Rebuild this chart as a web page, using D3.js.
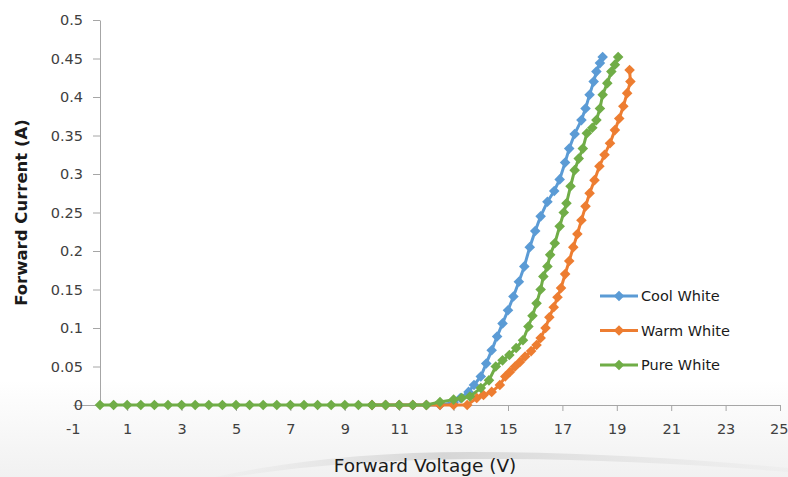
<!DOCTYPE html>
<html>
<head>
<meta charset="utf-8">
<script src="https://cdn.jsdelivr.net/npm/d3@7"></script>
<style>
  html, body { margin: 0; padding: 0; background: #fff; }
  svg { display: block; }
  text { font-family: "DejaVu Sans", "Noto Sans", sans-serif; }
</style>
</head>
<body>
<svg id="chart" width="788" height="477"></svg>
<script>
// ---------- data ----------
const seriesNames = ["Cool White", "Warm White", "Pure White"];
const seriesColors = ["#5B9BD5", "#ED7D31", "#70AD47"];

const coolV = [10, 10.5, 11, 11.5, 12, 12.5, 13.0, 13.25, 13.55, 13.75, 14.0, 14.2, 14.4, 14.6, 14.8, 15.0, 15.2, 15.4, 15.6, 15.8, 16.0, 16.2, 16.45, 16.7, 16.9, 17.1, 17.25, 17.45, 17.7, 17.85, 18.0, 18.15, 18.25, 18.38, 18.48];
const coolI = [0, 0, 0, 0, 0, 0, 0.003, 0.009, 0.017, 0.026, 0.037, 0.054, 0.071, 0.089, 0.106, 0.123, 0.141, 0.16, 0.18, 0.205, 0.226, 0.245, 0.264, 0.278, 0.293, 0.315, 0.333, 0.352, 0.37, 0.385, 0.403, 0.42, 0.433, 0.444, 0.452];

const warmV = [10, 10.5, 11, 11.5, 12, 12.5, 13, 13.5, 13.85, 14.1, 14.4, 14.7, 14.9, 15.07, 15.26, 15.44, 15.63, 15.85, 16.05, 16.2, 16.38, 16.52, 16.68, 16.82, 16.95, 17.1, 17.25, 17.4, 17.55, 17.7, 17.85, 18.0, 18.18, 18.36, 18.55, 18.75, 18.93, 19.09, 19.24, 19.38, 19.5, 19.47];
const warmI = [0, 0, 0, 0, 0, 0, 0, 0, 0.009, 0.013, 0.017, 0.026, 0.037, 0.043, 0.05, 0.056, 0.063, 0.07, 0.078, 0.087, 0.1, 0.114, 0.127, 0.14, 0.152, 0.17, 0.187, 0.205, 0.222, 0.24, 0.258, 0.275, 0.292, 0.31, 0.325, 0.34, 0.357, 0.372, 0.388, 0.405, 0.42, 0.435];

const pureV = [0, 0.5, 1, 1.5, 2, 2.5, 3, 3.5, 4, 4.5, 5, 5.5, 6, 6.5, 7, 7.5, 8, 8.5, 9, 9.5, 10, 10.5, 11, 11.5, 12, 12.5, 13.0, 13.3, 13.6, 14.0, 14.3, 14.55, 14.8, 15.05, 15.3, 15.55, 15.75, 15.9, 16.05, 16.2, 16.3, 16.45, 16.55, 16.72, 16.9, 17.05, 17.15, 17.3, 17.45, 17.6, 17.75, 17.9, 18.1, 18.25, 18.38, 18.48, 18.65, 18.8, 18.93, 19.05];
const pureI = [0, 0, 0, 0, 0, 0, 0, 0, 0, 0, 0, 0, 0, 0, 0, 0, 0, 0, 0, 0, 0, 0, 0, 0, 0, 0.004, 0.007, 0.009, 0.011, 0.022, 0.032, 0.05, 0.058, 0.065, 0.074, 0.084, 0.102, 0.116, 0.132, 0.15, 0.167, 0.18, 0.195, 0.21, 0.232, 0.25, 0.262, 0.284, 0.305, 0.32, 0.333, 0.353, 0.36, 0.37, 0.385, 0.403, 0.418, 0.433, 0.442, 0.452];

const xTicks = [-1, 1, 3, 5, 7, 9, 11, 13, 15, 17, 19, 21, 23, 25];
const yTicks = [0, 0.05, 0.1, 0.15, 0.2, 0.25, 0.3, 0.35, 0.4, 0.45, 0.5];
const xTitle = "Forward Voltage (V)";
const yTitle = "Forward Current (A)";

// ---------- layout ----------
const svg = d3.select("#chart");
const W = 788, H = 477;

const x = d3.scaleLinear().domain([-1, 25]).range([72.8, 780]);
const y = d3.scaleLinear().domain([0, 0.5]).range([405, 20]);

// background decoration (light band + swoosh at bottom)
const defs = svg.append("defs");
const g1 = defs.append("linearGradient").attr("id", "band").attr("x1", 0).attr("y1", 0).attr("x2", 0).attr("y2", 1);
g1.append("stop").attr("offset", "0%").attr("stop-color", "#ffffff");
g1.append("stop").attr("offset", "100%").attr("stop-color", "#f1f1f1");
svg.append("rect").attr("x", 0).attr("y", 380).attr("width", W).attr("height", H - 380).attr("fill", "url(#band)");
const g2 = defs.append("linearGradient").attr("id", "swoosh").attr("x1", 0).attr("y1", 0).attr("x2", 1).attr("y2", 0);
g2.append("stop").attr("offset", "0%").attr("stop-color", "#e4e4e4").attr("stop-opacity", 0.2);
g2.append("stop").attr("offset", "40%").attr("stop-color", "#d6d6d6").attr("stop-opacity", 1);
g2.append("stop").attr("offset", "100%").attr("stop-color", "#e6e6e6").attr("stop-opacity", 0.3);
svg.append("path")
  .attr("d", "M215,477 Q330,452 470,452 Q620,452 788,468 L788,472 Q620,458 470,459 Q340,460 232,477 Z")
  .attr("fill", "url(#swoosh)");

// ---------- axes ----------
const axisColor = "#a6a6a6";
const textColor = "#404040";
const fmtX = d => String(d);                 // plain hyphen-minus like the reference
const fmtY = d => String(+d.toFixed(2));

const xAxis = svg.append("g").attr("transform", `translate(0,${y(0)})`)
  .call(d3.axisBottom(x).tickValues(xTicks).tickSize(6).tickSizeOuter(0).tickPadding(13).tickFormat(fmtX));
xAxis.select(".domain").attr("stroke", axisColor);
xAxis.selectAll(".tick line").attr("stroke", axisColor);
xAxis.selectAll(".tick text").attr("fill", textColor).style("font-size", "14.5px");
xAxis.selectAll(".tick").filter(d => d === -1).select("line").remove();
xAxis.selectAll(".tick").filter(d => d === 25).select("text").attr("text-anchor", "end").attr("dx", "8");

const yAxis = svg.append("g").attr("transform", `translate(${x(0)},0)`)
  .call(d3.axisLeft(y).tickValues(yTicks).tickSize(7).tickSizeOuter(0).tickPadding(10).tickFormat(fmtY));
yAxis.select(".domain").attr("stroke", axisColor);
yAxis.selectAll(".tick line").attr("stroke", axisColor);
yAxis.selectAll(".tick text").attr("fill", textColor).style("font-size", "14.5px");

// titles
svg.append("text")
  .attr("transform", `translate(27,${(y(0) + y(0.5)) / 2}) rotate(-90)`)
  .attr("text-anchor", "middle")
  .attr("fill", "#1a1a1a")
  .style("font-size", "16.5px").style("font-weight", "bold")
  .text(yTitle);
svg.append("text")
  .attr("x", 425).attr("y", 472)
  .attr("text-anchor", "middle")
  .attr("fill", "#1a1a1a")
  .style("font-size", "18.5px")
  .text(xTitle);

// ---------- series ----------
const series = [
  { name: seriesNames[0], color: seriesColors[0], pts: coolV.map((v, i) => [v, coolI[i]]) },
  { name: seriesNames[1], color: seriesColors[1], pts: warmV.map((v, i) => [v, warmI[i]]) },
  { name: seriesNames[2], color: seriesColors[2], pts: pureV.map((v, i) => [v, pureI[i]]) }
];

const line = d3.line().x(d => x(d[0])).y(d => y(d[1]));
const diamond = d3.symbol().type(d3.symbolSquare).size(56);

series.forEach(s => {
  const g = svg.append("g");
  g.append("path").datum(s.pts)
    .attr("d", line).attr("fill", "none")
    .attr("stroke", s.color).attr("stroke-width", 3).attr("stroke-linejoin", "round");
  g.selectAll("path.m").data(s.pts).join("path").attr("class", "m")
    .attr("d", diamond)
    .attr("transform", d => `translate(${x(d[0])},${y(d[1])}) rotate(45)`)
    .attr("fill", s.color);
});

// ---------- legend ----------
const legend = svg.append("g");
series.forEach((s, i) => {
  const ly = 296 + i * 34.5;
  legend.append("line").attr("x1", 600).attr("x2", 638).attr("y1", ly).attr("y2", ly)
    .attr("stroke", s.color).attr("stroke-width", 3);
  legend.append("path").attr("d", diamond).attr("transform", `translate(619,${ly}) rotate(45)`).attr("fill", s.color);
  legend.append("text").attr("x", 641).attr("y", ly).attr("dy", "0.35em")
    .attr("fill", "#1a1a1a").style("font-size", "14.5px").text(s.name);
});
</script>
</body>
</html>
